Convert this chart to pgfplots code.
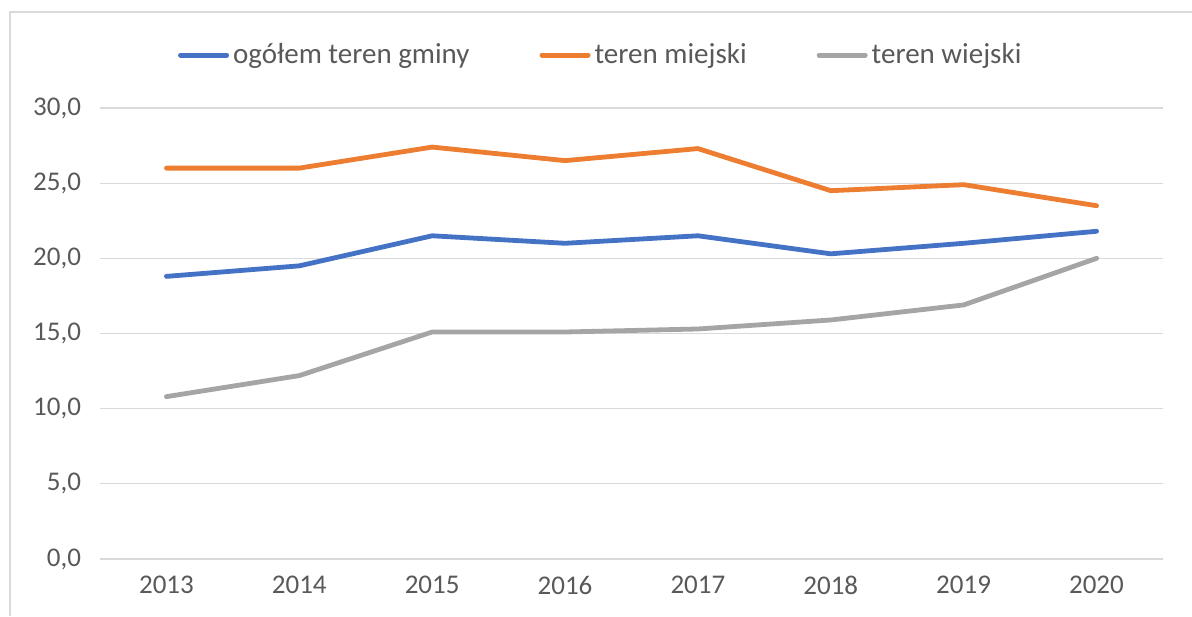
\documentclass[border=0pt]{standalone}
\usepackage{fontspec}
\setmainfont{Carlito}
\usepackage{pgfplots}
\pgfplotsset{compat=1.18}
\definecolor{cblue}{HTML}{4472C4}
\definecolor{corange}{HTML}{ED7D31}
\definecolor{cgray}{HTML}{A5A5A5}
\definecolor{gridc}{HTML}{D9D9D9}
\definecolor{txt}{HTML}{595959}
\begin{document}
\begin{tikzpicture}
\path[use as bounding box] (0,0) rectangle (596pt,308pt);
\draw[gridc, line width=0.6pt] (5pt,0) -- (5pt,302pt) -- (596pt,302pt);
\begin{axis}[
  at={(50pt,28.5pt)}, anchor=south west,
  scale only axis, width=531.5pt, height=225.5pt,
  xmin=2012.5, xmax=2020.5, ymin=0, ymax=30,
  xtick={2013,...,2020}, ytick={0,5,...,30},
  xticklabel style={/pgf/number format/1000 sep={}, yshift=-5pt},
  yticklabel style={/pgf/number format/fixed, /pgf/number format/fixed zerofill, /pgf/number format/precision=1, /pgf/number format/use comma, xshift=-6pt},
  /pgf/number format/assume math mode=true,
  tick label style={font=\fontsize{13.5}{16}\selectfont, text=txt},
  major tick length=0pt,
  axis line style={draw=none},
  xmajorgrids=false, ymajorgrids=true, grid style={draw=gridc, line width=0.6pt},
  legend columns=3,
  legend style={at={(0.472,1.1175)}, anchor=center, draw=none, fill=none,
    font=\fontsize{14.5}{17}\selectfont, text=txt,
    /tikz/every odd column/.append style={column sep=0pt},
    /tikz/every even column/.append style={column sep=33pt},
    nodes={inner sep=2pt}},
  legend image code/.code={\draw[#1, line width=2.5pt, line cap=round] (0pt,0pt) -- (23pt,0pt);},
  every axis plot/.append style={line width=2.4pt, line cap=round, line join=round},
]
\addplot[cblue] coordinates {(2013,18.8) (2014,19.5) (2015,21.5) (2016,21.0) (2017,21.5) (2018,20.3) (2019,21.0) (2020,21.8)};
\addlegendentry{ogółem teren gminy}
\addplot[corange] coordinates {(2013,26.0) (2014,26.0) (2015,27.4) (2016,26.5) (2017,27.3) (2018,24.5) (2019,24.9) (2020,23.5)};
\addlegendentry{teren miejski}
\addplot[cgray] coordinates {(2013,10.8) (2014,12.2) (2015,15.1) (2016,15.1) (2017,15.3) (2018,15.9) (2019,16.9) (2020,20.0)};
\addlegendentry{teren wiejski}
\end{axis}
\end{tikzpicture}
\end{document}
